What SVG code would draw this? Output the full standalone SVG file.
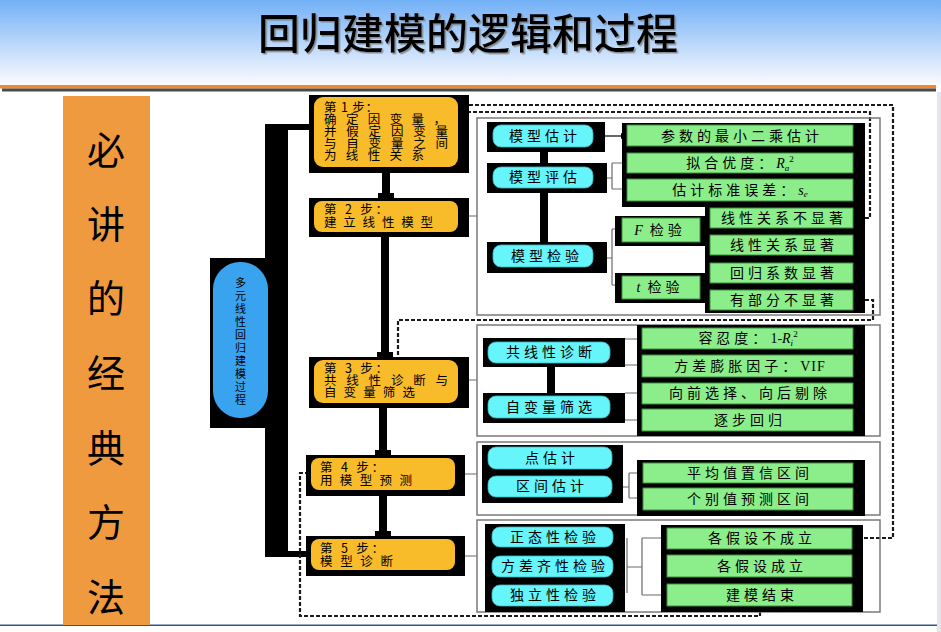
<svg xmlns="http://www.w3.org/2000/svg" width="941" height="632" viewBox="0 0 941 632">
<defs>
<linearGradient id="tg" x1="0" y1="0" x2="0" y2="1">
<stop offset="0" stop-color="#72b0f6"/>
<stop offset="0.5" stop-color="#b9d7fa"/>
<stop offset="1" stop-color="#fdfbff"/>
</linearGradient>
<filter id="ts" x="-10%" y="-50%" width="120%" height="200%">
<feDropShadow dx="1.5" dy="1.5" stdDeviation="0.6" flood-color="#777" flood-opacity="0.8"/>
</filter>
<marker id="ah" markerWidth="6" markerHeight="6" refX="5" refY="3" orient="auto" markerUnits="userSpaceOnUse">
<path d="M0,0 L6,3 L0,6 Z" fill="#000"/>
</marker>
</defs>
<style>
text{font-family:"Noto Sans CJK SC","Noto Sans CJK JP",sans-serif;fill:#000}
.sh{fill:#000}
.yel{fill:#f8bb2a}
.cy{fill:#66f5fa;stroke:#3fb8c0;stroke-width:0.8}
.gr{fill:#8cee8a;stroke:#3f8f3f;stroke-width:1}
.pan{fill:none;stroke:#7a7a7a;stroke-width:1.5}
.st{font-size:12.5px}
.bx{font-size:14px;letter-spacing:4px;text-anchor:middle}
.gl{fill:none;stroke:#6a6a6a;stroke-width:1.2}
.dl{fill:none;stroke:#1a1a1a;stroke-width:2.2;stroke-dasharray:4 2}
.bar{fill:#000}
.ser{font-family:"Liberation Serif",serif;font-style:italic}
.v{font-size:11px;text-anchor:middle}
.big{font-size:38px;text-anchor:middle}
</style>
<rect width="941" height="632" fill="#fff"/>
<g id="title">
<rect x="0" y="0" width="941" height="86" fill="url(#tg)"/>
<rect x="0" y="85" width="936" height="3.5" fill="#ef8a32"/>
<rect x="2" y="88.5" width="934" height="3" fill="#4a4a4a"/>
<rect x="937" y="92" width="4" height="540" fill="#e6e6ea"/>
<rect x="0" y="624.5" width="937" height="1.5" fill="#34558a"/>
<text x="468" y="49" font-size="42" font-weight="500" text-anchor="middle" filter="url(#ts)">回归建模的逻辑和过程</text>
</g>
<g id="side-label">
<rect x="63" y="96" width="87" height="529" fill="#f09a3f"/>
<text class="big" x="106" y="164">必</text>
<text class="big" x="106" y="238">讲</text>
<text class="big" x="106" y="312">的</text>
<text class="big" x="106" y="387">经</text>
<text class="big" x="106" y="462">典</text>
<text class="big" x="106" y="536">方</text>
<text class="big" x="106" y="611">法</text>
</g>
<g id="connectors">
<rect class="bar" x="265" y="124" width="23" height="433"/>
<rect class="bar" x="265" y="124" width="45" height="6"/>
<rect class="bar" x="265" y="551" width="42" height="6"/>
<path class="bar" d="M382,173 H390 V193 H394 V198 H378 V193 H382 Z"/>
<path class="bar" d="M381,237 H389 V352 H393 V357 H377 V352 H381 Z"/>
<path class="bar" d="M379,408 H387 V450 H391 V455 H375 V450 H379 Z"/>
<path class="bar" d="M379,496 H387 V531 H391 V536 H375 V531 H379 Z"/>
<rect class="bar" x="540" y="152" width="8" height="11"/>
<rect class="bar" x="540" y="193" width="8" height="49"/>
<rect class="bar" x="547" y="367" width="8" height="26"/>
<path class="gl" d="M469,216 H477 M469,380 H477 M465,474 H477 M465,556 H477"/>
<path d="M605,136 H626" stroke="#000" stroke-width="1.2" marker-end="url(#ah)"/>
<path class="gl" d="M607,178 H612 M612,163 V189 M612,163 H622 M612,189 H622"/>
<path class="gl" d="M607,258 H612 M612,229 V285 M612,229 H615 M612,285 H615"/>
<path class="gl" d="M625,339 H637 M625,365 H637 M625,393 H637 M625,420 H637"/>
<path class="gl" d="M623,487 H629 M629,473 V498 M629,473 H643 M629,498 H643"/>
<path class="gl" d="M627,538 V593 M627,567 H642 M642,538 V595 M642,538 H661 M642,595 H661"/>
<path d="M760,577 V584" stroke="#333" stroke-width="1"/>
<path class="dl" d="M852,538 H893 V105 H469"/>
<path class="dl" d="M853,218 H870 V112 H469"/>
<path class="dl" d="M853,300 H873 V320 H398 V357"/>
<path class="dl" d="M760,606 V616 H300 V473 H307"/>
</g>
<g id="process">
<rect class="sh" x="210" y="258" width="55" height="170"/>
<rect x="213" y="262" width="55" height="156" rx="27" fill="#3aa3f0"/>
<text class="v"><tspan x="240.5" y="287">多</tspan><tspan x="240.5" y="300">元</tspan><tspan x="240.5" y="313">线</tspan><tspan x="240.5" y="326">性</tspan><tspan x="240.5" y="339">回</tspan><tspan x="240.5" y="352">归</tspan><tspan x="240.5" y="365">建</tspan><tspan x="240.5" y="378">模</tspan><tspan x="240.5" y="391">过</tspan><tspan x="240.5" y="404">程</tspan></text>
</g>
<g id="step1">
<rect class="sh" x="309" y="95" width="160" height="78"/>
<rect class="yel" x="314" y="97" width="144" height="70" rx="9"/>
<text class="st"><tspan x="324" y="112" textLength="54" lengthAdjust="spacing">第 1 步：</tspan><tspan x="324" y="124" textLength="122" lengthAdjust="spacing">确定因变量，</tspan><tspan x="324" y="136" textLength="124" lengthAdjust="spacing">并假定因变量</tspan><tspan x="324" y="148" textLength="124" lengthAdjust="spacing">与自变量之间</tspan><tspan x="324" y="160" textLength="100" lengthAdjust="spacing">为线性关系</tspan></text>
</g>
<g id="step2">
<rect class="sh" x="309" y="198" width="160" height="39"/>
<rect class="yel" x="314" y="201" width="144" height="31" rx="8"/>
<text class="st"><tspan x="324" y="214" textLength="64" lengthAdjust="spacing">第 2 步：</tspan><tspan x="324" y="227" textLength="109" lengthAdjust="spacing">建立线性模型</tspan></text>
</g>
<g id="step3">
<rect class="sh" x="309" y="357" width="160" height="51"/>
<rect class="yel" x="314" y="360" width="144" height="43" rx="9"/>
<text class="st"><tspan x="324" y="373" textLength="64" lengthAdjust="spacing">第 3 步：</tspan><tspan x="324" y="385" textLength="124" lengthAdjust="spacing">共线性诊断与</tspan><tspan x="324" y="397" textLength="91" lengthAdjust="spacing">自变量筛选</tspan></text>
</g>
<g id="step4">
<rect class="sh" x="306" y="455" width="159" height="41"/>
<rect class="yel" x="311" y="458" width="144" height="32" rx="8"/>
<text class="st"><tspan x="320" y="472" textLength="64" lengthAdjust="spacing">第 4 步：</tspan><tspan x="320" y="485" textLength="92" lengthAdjust="spacing">用模型预测</tspan></text>
</g>
<g id="step5">
<rect class="sh" x="306" y="536" width="159" height="40"/>
<rect class="yel" x="311" y="539" width="144" height="31" rx="8"/>
<text class="st"><tspan x="320" y="553" textLength="64" lengthAdjust="spacing">第 5 步：</tspan><tspan x="320" y="566" textLength="73" lengthAdjust="spacing">模型诊断</tspan></text>
</g>
<g id="panel1">
<rect class="pan" x="477" y="118" width="403" height="197"/>
<rect class="sh" x="487" y="122" width="118" height="30"/>
<rect class="cy" x="493" y="125" width="100" height="22" rx="8"/>
<text class="bx" x="545" y="141">模型估计</text>
<rect class="sh" x="487" y="163" width="120" height="30"/>
<rect class="cy" x="493" y="167" width="100" height="21" rx="8"/>
<text class="bx" x="545" y="182">模型评估</text>
<rect class="sh" x="487" y="242" width="120" height="31"/>
<rect class="cy" x="493" y="245" width="100" height="22" rx="8"/>
<text class="bx" x="547" y="261">模型检验</text>
<rect class="sh" x="622" y="123" width="243" height="84"/>
<rect class="gr" x="627" y="125" width="226" height="21"/>
<text class="bx" x="742" y="141">参数的最小二乘估计</text>
<rect class="gr" x="627" y="153" width="226" height="20"/>
<text class="bx" x="740" y="168">拟合优度：<tspan class="ser" letter-spacing="0">R</tspan><tspan class="ser" font-size="9" dy="3" letter-spacing="0">a</tspan><tspan font-family="Liberation Serif" font-size="9" dy="-9" letter-spacing="0">2</tspan></text>
<rect class="gr" x="627" y="179" width="226" height="22"/>
<text class="bx" x="740" y="195">估计标准误差：<tspan class="ser" letter-spacing="0">s</tspan><tspan class="ser" font-size="9" dy="2" letter-spacing="0">e</tspan></text>
<rect class="sh" x="705" y="207" width="160" height="106"/>
<rect class="gr" x="710" y="208" width="143" height="20"/>
<text class="bx" x="784" y="223">线性关系不显著</text>
<rect class="gr" x="710" y="235" width="143" height="20"/>
<text class="bx" x="784" y="250">线性关系显著</text>
<rect class="gr" x="710" y="263" width="143" height="20"/>
<text class="bx" x="784" y="278">回归系数显著</text>
<rect class="gr" x="710" y="290" width="143" height="20"/>
<text class="bx" x="784" y="305">有部分不显著</text>
<rect class="sh" x="615" y="216" width="90" height="30"/>
<rect class="gr" x="622" y="218" width="78" height="24"/>
<text class="bx" x="660" y="235"><tspan class="ser" letter-spacing="0">F</tspan> 检验</text>
<rect class="sh" x="615" y="273" width="90" height="30"/>
<rect class="gr" x="622" y="276" width="78" height="23"/>
<text class="bx" x="660" y="292"><tspan class="ser" letter-spacing="0">t</tspan> 检验</text>
</g>
<g id="panel2">
<rect class="pan" x="477" y="325" width="403" height="111"/>
<rect class="sh" x="483" y="338" width="142" height="29"/>
<rect class="cy" x="488" y="342" width="122" height="21" rx="8"/>
<text class="bx" x="551" y="357">共线性诊断</text>
<rect class="sh" x="483" y="393" width="142" height="30"/>
<rect class="cy" x="488" y="396" width="122" height="22" rx="8"/>
<text class="bx" x="551" y="412">自变量筛选</text>
<rect class="sh" x="637" y="325" width="228" height="111"/>
<rect class="gr" x="642" y="328" width="211" height="21"/>
<text class="bx" x="748" y="343">容忍度：<tspan font-family="Liberation Serif" letter-spacing="0">1-</tspan><tspan class="ser" letter-spacing="0">R</tspan><tspan class="ser" font-size="9" dy="3" letter-spacing="0">i</tspan><tspan font-family="Liberation Serif" font-size="9" dy="-9" letter-spacing="0">2</tspan></text>
<rect class="gr" x="642" y="355" width="211" height="22"/>
<text class="bx" x="750" y="371">方差膨胀因子：<tspan font-family="Liberation Serif" letter-spacing="1">VIF</tspan></text>
<rect class="gr" x="642" y="383" width="211" height="21"/>
<text class="bx" x="750" y="398">向前选择、向后剔除</text>
<rect class="gr" x="642" y="409" width="211" height="22"/>
<text class="bx" x="750" y="425">逐步回归</text>
</g>
<g id="panel3">
<rect class="pan" x="477" y="442" width="403" height="73"/>
<rect class="sh" x="482" y="445" width="141" height="58"/>
<rect class="cy" x="488" y="447" width="124" height="22" rx="8"/>
<text class="bx" x="552" y="463">点估计</text>
<rect class="cy" x="488" y="476" width="124" height="21" rx="8"/>
<text class="bx" x="552" y="491">区间估计</text>
<rect class="sh" x="637" y="460" width="228" height="56"/>
<rect class="gr" x="643" y="463" width="210" height="20"/>
<text class="bx" x="750" y="478">平均值置信区间</text>
<rect class="gr" x="643" y="488" width="210" height="22"/>
<text class="bx" x="750" y="504">个别值预测区间</text>
</g>
<g id="panel4">
<rect class="pan" x="477" y="520" width="403" height="92"/>
<rect class="sh" x="485" y="524" width="140" height="88"/>
<rect class="cy" x="492" y="527" width="121" height="20" rx="8"/>
<text class="bx" x="555" y="542">正态性检验</text>
<rect class="cy" x="492" y="556" width="121" height="21" rx="8"/>
<text class="bx" x="555" y="571">方差齐性检验</text>
<rect class="cy" x="492" y="585" width="121" height="21" rx="8"/>
<text class="bx" x="555" y="600">独立性检验</text>
<rect class="sh" x="661" y="525" width="202" height="87"/>
<rect class="gr" x="667" y="528" width="185" height="21"/>
<text class="bx" x="762" y="543">各假设不成立</text>
<rect class="gr" x="667" y="555" width="185" height="22"/>
<text class="bx" x="762" y="571">各假设成立</text>
<rect class="gr" x="667" y="584" width="185" height="22"/>
<text class="bx" x="762" y="600">建模结束</text>
</g>
</svg>
